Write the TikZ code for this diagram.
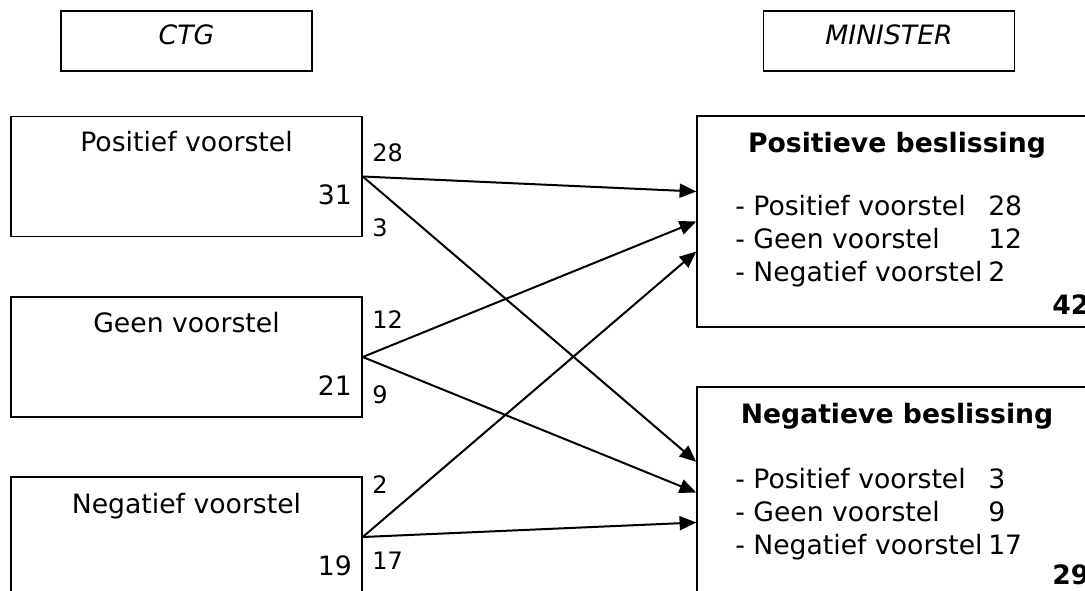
\documentclass[tikz,border=0pt]{standalone}
\usepackage{fontspec}
\setmainfont{DejaVu Sans}
\usetikzlibrary{arrows.meta}

\begin{document}
\begin{tikzpicture}[x=0.75pt, y=-0.75pt, font=\fontsize{20}{24}\selectfont, inner sep=0pt,
    box/.style={draw, line width=1.1pt},
    flow/.style={-{Triangle[length=12.5pt,width=10.5pt]}, line width=1.5pt},
    count/.style={anchor=base west, font=\fontsize{18}{21}\selectfont}]
        \useasboundingbox (0,0) rectangle (1085,591);
        \clip (0,0) rectangle (1085,591);
        \node[box, minimum width=188.25pt, minimum height=45pt] (ctg) at (186.5,41) {};
        \node[anchor=base] (ctglbl) at (186.5,45) {\itshape CTG};
        \node[box, minimum width=188.25pt, minimum height=45pt] (min) at (889,41) {};
        \node[anchor=base] (minlbl) at (889,45) {\itshape MINISTER};
        \node[box, minimum width=263.25pt, minimum height=90pt] (pos) at (186.5,176.5) {};
        \node[anchor=base] (poslbl) at (186.5,152) {Positief voorstel};
        \node[anchor=base east] (postot) at (352,205) {31};
        \node[box, minimum width=263.25pt, minimum height=90pt] (geen) at (186.5,357) {};
        \node[anchor=base] (geenlbl) at (186.5,333) {Geen voorstel};
        \node[anchor=base east] (geentot) at (352,396) {21};
        \node[box, minimum width=263.25pt, minimum height=90pt] (neg) at (186.5,537) {};
        \node[anchor=base] (neglbl) at (186.5,513) {Negatief voorstel};
        \node[anchor=base east] (negtot) at (352,575) {19};
        \node[count] (c28) at (372,162) {28};
        \node[count] (c3) at (372,237) {3};
        \node[count] (c12) at (372,329) {12};
        \node[count] (c9) at (372,403) {9};
        \node[count] (c2) at (372,493) {2};
        \node[count] (c17) at (372,569) {17};
        \node[box, minimum width=300pt, minimum height=158.25pt] (posdec) at (897,221.5) {};
        \node[anchor=base, font=\fontsize{20}{24}\bfseries] (posdeclbl) at (897,153) {Positieve beslissing};
        \node[anchor=base west] (pa) at (735,216) {- Positief voorstel};
        \node[anchor=base west] (pb) at (735,249) {- Geen voorstel};
        \node[anchor=base west] (pc) at (735,282) {- Negatief voorstel};
        \node[anchor=base west] (pan) at (988,216) {28};
        \node[anchor=base west] (pbn) at (988,249) {12};
        \node[anchor=base west] (pcn) at (988,282) {2};
        \node[anchor=base west, font=\fontsize{20}{24}\bfseries] (postotal) at (1052,315) {42};
        \node[box, minimum width=300pt, minimum height=158.25pt] (negdec) at (897,492.5) {};
        \node[anchor=base, font=\fontsize{20}{24}\bfseries] (negdeclbl) at (897,423) {Negatieve beslissing};
        \node[anchor=base west] (na) at (735,488) {- Positief voorstel};
        \node[anchor=base west] (nb) at (735,521) {- Geen voorstel};
        \node[anchor=base west] (nc) at (735,554) {- Negatief voorstel};
        \node[anchor=base west] (nan) at (988,488) {3};
        \node[anchor=base west] (nbn) at (988,521) {9};
        \node[anchor=base west] (ncn) at (988,554) {17};
        \node[anchor=base west, font=\fontsize{20}{24}\bfseries] (negtotal) at (1052,584) {29};
        \draw[flow] (pos.east) -- ([yshift=22.5pt]posdec.west);
        \draw[flow] (pos.east) -- ([yshift=23pt]negdec.west);
        \draw[flow] (geen.east) -- (posdec.west);
        \draw[flow] (geen.east) -- (negdec.west);
        \draw[flow] (neg.east) -- ([yshift=-22.5pt]posdec.west);
        \draw[flow] (neg.east) -- ([yshift=-22.5pt]negdec.west);
\end{tikzpicture}
\end{document}
